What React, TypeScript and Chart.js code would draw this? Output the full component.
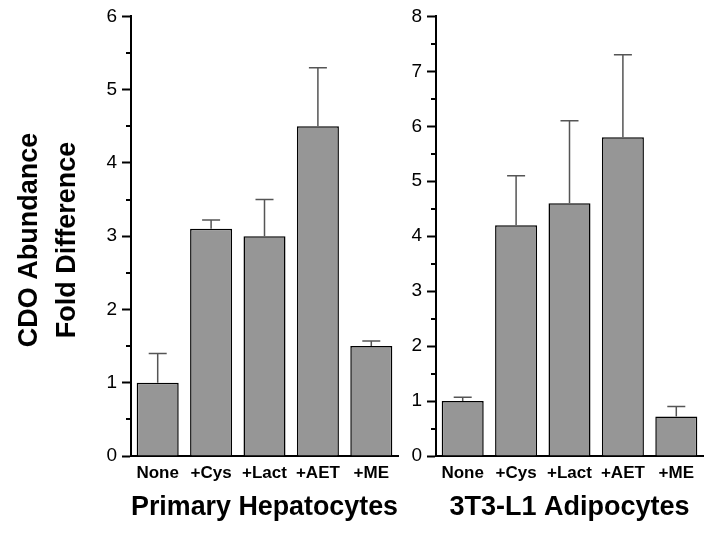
import React, { useEffect, useRef } from "react";
import { Chart, registerables } from "chart.js";

Chart.register(...registerables);

const categories = ["None", "+Cys", "+Lact", "+AET", "+ME"];
const hepatocyteMeans = [1.0, 3.1, 3.0, 4.5, 1.5];
const hepatocyteErrors = [0.4, 0.12, 0.5, 0.8, 0.07];
const adipocyteMeans = [1.0, 4.2, 4.6, 5.8, 0.72];
const adipocyteErrors = [0.07, 0.9, 1.5, 1.5, 0.18];
const hepatocyteMax = 6;
const adipocyteMax = 8;
const yTitleLines = ["CDO Abundance ", "Fold Difference "];
const hepatocyteTitle = "Primary Hepatocytes";
const adipocyteTitle = "3T3-L1 Adipocytes";

const FONT = "'Liberation Sans', Arial, Helvetica, sans-serif";

const errorBarPlugin = {
  id: "errorBars",
  afterDatasetsDraw(chart: any) {
    const errs: number[] = chart.options.plugins.errorBars?.errors || [];
    const meta = chart.getDatasetMeta(0);
    const yScale = chart.scales.y;
    const values = chart.data.datasets[0].data as number[];
    const ctx = chart.ctx;
    ctx.save();
    ctx.strokeStyle = "#555";
    ctx.lineWidth = 1.5;
    meta.data.forEach((bar: any, i: number) => {
      const top = yScale.getPixelForValue(values[i]);
      const errTop = yScale.getPixelForValue(values[i] + errs[i]);
      ctx.beginPath();
      ctx.moveTo(bar.x, top);
      ctx.lineTo(bar.x, errTop);
      ctx.moveTo(bar.x - 9, errTop);
      ctx.lineTo(bar.x + 9, errTop);
      ctx.stroke();
    });
    ctx.restore();
  },
};

const minorTickPlugin = {
  id: "minorTicks",
  afterDraw(chart: any) {
    const yScale = chart.scales.y;
    const ctx = chart.ctx;
    const x = chart.chartArea.left;
    ctx.save();
    ctx.strokeStyle = "#000";
    ctx.lineWidth = 2;
    for (let v = 0.5; v < yScale.max; v += 1) {
      const py = Math.round(yScale.getPixelForValue(v));
      ctx.beginPath();
      ctx.moveTo(x - 5, py);
      ctx.lineTo(x, py);
      ctx.stroke();
    }
    ctx.restore();
  },
};

type PanelProps = {
  means: number[];
  errors: number[];
  max: number;
  title: string;
  showYTitle: boolean;
  yWidth: number;
  padRight: number;
  width: number;
};

function Panel({ means, errors, max, title, showYTitle, yWidth, padRight, width }: PanelProps) {
  const ref = useRef<HTMLCanvasElement | null>(null);
  useEffect(() => {
    if (!ref.current) return;
    const chart = new Chart(ref.current, {
      type: "bar",
      data: {
        labels: categories,
        datasets: [
          {
            data: means,
            backgroundColor: "#969696",
            borderColor: "#000",
            borderWidth: 1.5,
            barPercentage: 0.787,
            categoryPercentage: 1,
          },
        ],
      },
      options: {
        responsive: false,
        animation: false,
        devicePixelRatio: 1,
        layout: { padding: { top: 16, right: padRight, left: 0, bottom: 0 } },
        plugins: {
          legend: { display: false },
          tooltip: { enabled: false },
          // @ts-ignore
          errorBars: { errors },
        },
        scales: {
          x: {
            offset: true,
            grid: { display: false, drawTicks: false },
            border: { display: true, color: "#000", width: 2 },
            ticks: { padding: 7, color: "#000", font: { family: FONT, size: 17, weight: "bold" } },
            title: {
              display: true,
              text: title,
              color: "#000",
              font: { family: FONT, size: 27, weight: "bold" },
              padding: { top: 0, bottom: 10 },
            },
            afterFit: (s: any) => {
              s.height = 78;
            },
          },
          y: {
            min: 0,
            max,
            ticks: { stepSize: 1, padding: 5, color: "#000", font: { family: FONT, size: 19 } },
            grid: { drawOnChartArea: false, tickLength: 9, tickWidth: 2, tickColor: "#000" },
            border: { display: true, color: "#000", width: 2 },
            title: {
              display: showYTitle,
              text: yTitleLines,
              color: "#000",
              font: { family: FONT, size: 27, weight: "bold", lineHeight: 1.407 },
              padding: { top: 11, bottom: 0 },
            },
            afterFit: (s: any) => {
              s.width = yWidth;
            },
          },
        },
      } as any,
      plugins: [errorBarPlugin, minorTickPlugin],
    });
    return () => chart.destroy();
  }, []);
  return <canvas ref={ref} width={width} height={534} style={{ display: "block", width, height: 534 }} />;
}

export default function App() {
  return (
    <div style={{ position: "fixed", left: 0, top: 0, width: 712, height: 534, background: "#fff" }}>
      <div style={{ position: "absolute", left: 0, top: 0 }}>
        <Panel
          means={hepatocyteMeans}
          errors={hepatocyteErrors}
          max={hepatocyteMax}
          title={hepatocyteTitle}
          showYTitle={true}
          yWidth={131}
          padRight={4}
          width={402}
        />
      </div>
      <div style={{ position: "absolute", left: 402, top: 0 }}>
        <Panel
          means={adipocyteMeans}
          errors={adipocyteErrors}
          max={adipocyteMax}
          title={adipocyteTitle}
          showYTitle={false}
          yWidth={34}
          padRight={9}
          width={310}
        />
      </div>
    </div>
  );
}
